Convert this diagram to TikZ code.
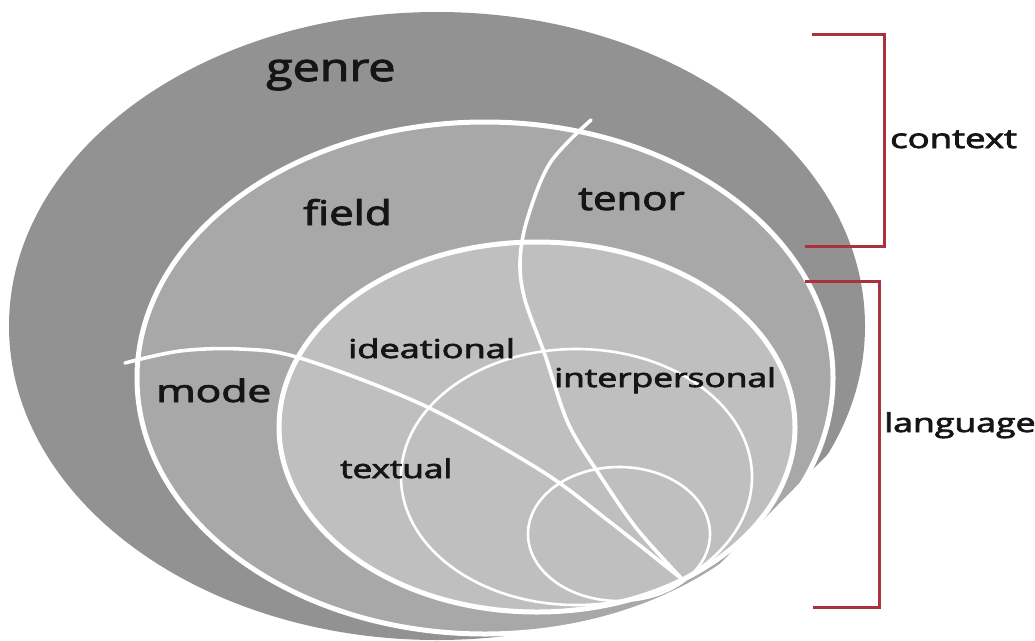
\documentclass[tikz,border=0pt]{standalone}
\usepackage{fontspec}
\usepackage{graphicx}
\setmainfont{Open Sans}
\newfontfamily\lblfont{Open Sans}[FakeBold=2.5]
\definecolor{genregray}{HTML}{929292}
\definecolor{reggray}{HTML}{A8A8A8}
\definecolor{langgray}{HTML}{BFBFBF}
\definecolor{txt}{HTML}{151515}
\definecolor{brk}{RGB}{170,50,62}
\tikzset{
  whiteline/.style={draw=white, line width=5pt},
  thinline/.style={draw=white, line width=2.6pt},
  divline/.style={draw=white, line width=3.6pt, line cap=round},
  lbl/.style={anchor=base west, inner sep=0pt, text=txt},
  bracket/.style={draw=brk, line width=3pt},
}
\newcommand{\lab}[3]{\scalebox{#2}[1]{\lblfont\fontsize{#1}{#1}\selectfont #3}}
\begin{document}
\begin{tikzpicture}[x=1pt,y=-1pt]
\useasboundingbox (0,0) rectangle (1035,640);
% genre
\fill[genregray] (437,326) ellipse [x radius=428, y radius=314];
% register
\fill[reggray] (485,378) ellipse [x radius=348, y radius=256];
\draw[whiteline] (485,378) ellipse [x radius=348, y radius=256];
% the outer rings end at the lower right
\begin{scope}
  \clip (842,440) -- (1035,440) -- (1035,640) -- (645,640) -- cycle;
  \fill[white, even odd rule] (560,380) rectangle (1035,640)
        (537,427) ellipse [x radius=260, y radius=187];
\end{scope}
% language
\fill[langgray] (537,427) ellipse [x radius=258, y radius=185];
% dividers
\draw[divline] plot[smooth, tension=0.55] coordinates {(125,363) (180,351) (240,349) (300,358) (423,405) (540,470) (610,522) (683,580)};
\draw[divline] plot[smooth, tension=0.55] coordinates {(591,120) (550,163) (527,220) (520,262) (525,300) (545,355) (568,423) (599,474) (637,529) (683,580)};
\draw[whiteline] (537,427) ellipse [x radius=258, y radius=185];
% inner circles
\draw[thinline] (576.5,477) ellipse [x radius=175.5, y radius=128];
\draw[thinline] (619,534) ellipse [x radius=91, y radius=67];
% labels
\node[lbl] (genre) at (266,81) {\lab{39}{1.24}{genre}};
\node[lbl] (field) at (303,225) {\lab{34}{1.29}{field}};
\node[lbl] (tenor) at (578,210) {\lab{33}{1.27}{tenor}};
\node[lbl] (mode) at (156,402) {\lab{31}{1.37}{mode}};
\node[lbl] (ideational) at (348,358) {\lab{26}{1.39}{ideational}};
\node[lbl] (textual) at (340,478) {\lab{26}{1.35}{textual}};
\node[lbl] (interpersonal) at (554,387) {\lab{26}{1.36}{interpersonal}};
\node[lbl] (context) at (890,148) {\lab{26.7}{1.37}{context}};
\node[lbl] (language) at (884,432) {\lab{26}{1.37}{language}};
% brackets
\coordinate (c1) at (812,34);
\coordinate (c2) at (884,34);
\coordinate (c3) at (884,246);
\coordinate (c4) at (805,246);
\draw[bracket] (c1) -- (c2) -- (c3) -- (c4);
\coordinate (l1) at (805,281);
\coordinate (l2) at (879,281);
\coordinate (l3) at (879,607);
\coordinate (l4) at (813,607);
\draw[bracket] (l1) -- (l2) -- (l3) -- (l4);
\end{tikzpicture}
\end{document}
